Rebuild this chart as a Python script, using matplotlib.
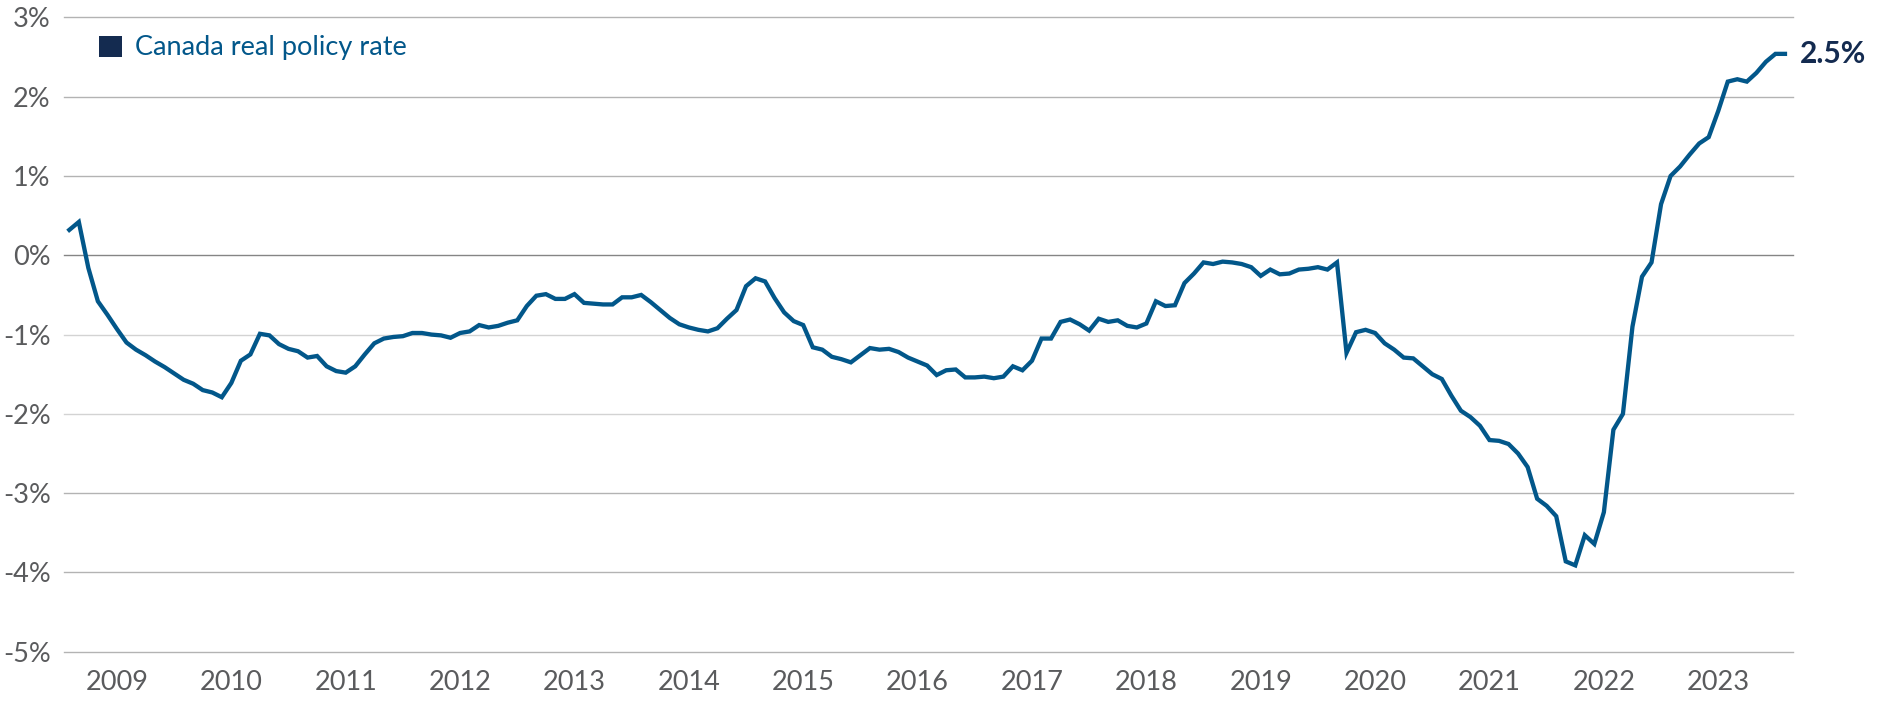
import numpy as np
import pandas as pd
import matplotlib
matplotlib.use("Agg")
import matplotlib.pyplot as plt
from matplotlib.patches import Patch

# Canada real policy rate, monthly (%), Aug 2008 - Aug 2023
rate_2008_2011 = [0.32, 0.42, -0.16, -0.58, -0.75, -0.93, -1.10, -1.19, -1.26, -1.34,
                  -1.41, -1.49, -1.57, -1.62, -1.70, -1.73, -1.79, -1.61, -1.33, -1.25,
                  -0.99, -1.01, -1.12, -1.18, -1.21, -1.29, -1.27, -1.40, -1.46, -1.48,
                  -1.40, -1.25, -1.11, -1.05, -1.03, -1.02, -0.98, -0.98, -1.00, -1.01,
                  -1.04]
rate_2012_2015 = [-0.98, -0.96, -0.88, -0.91, -0.89, -0.85, -0.82, -0.64, -0.51, -0.49,
                  -0.55, -0.55, -0.49, -0.60, -0.61, -0.62, -0.62, -0.53, -0.53, -0.50,
                  -0.59, -0.69, -0.79, -0.87, -0.91, -0.94, -0.96, -0.92, -0.80, -0.69,
                  -0.39, -0.29, -0.33, -0.54, -0.72, -0.83, -0.88, -1.16, -1.19, -1.28,
                  -1.31, -1.35, -1.26, -1.17, -1.19, -1.18, -1.22, -1.29]
rate_2016_2019 = [-1.34, -1.39, -1.51, -1.45, -1.44, -1.54, -1.54, -1.53, -1.55, -1.53,
                  -1.40, -1.45, -1.33, -1.05, -1.05, -0.84, -0.81, -0.87, -0.95, -0.80,
                  -0.84, -0.82, -0.89, -0.91, -0.86, -0.58, -0.64, -0.63, -0.35, -0.23,
                  -0.09, -0.11, -0.08, -0.09, -0.11, -0.15, -0.26, -0.18, -0.24, -0.23,
                  -0.18, -0.17, -0.15, -0.18, -0.09, -1.23, -0.97, -0.94]
rate_2020_2023 = [-0.98, -1.11, -1.19, -1.29, -1.30, -1.40, -1.50, -1.56, -1.77, -1.96,
                  -2.04, -2.15, -2.33, -2.34, -2.38, -2.50, -2.67, -3.07, -3.16, -3.29,
                  -3.86, -3.91, -3.53, -3.64, -3.24, -2.20, -2.00, -0.90, -0.27, -0.09,
                  0.645, 1.00, 1.12, 1.27, 1.41, 1.49, 1.82, 2.19, 2.22, 2.19,
                  2.30, 2.44, 2.54, 2.54]

y_ticks = [3, 2, 1, 0, -1, -2, -3, -4, -5]
series_label = "Canada real policy rate"
end_label = "2.5%"

rate = rate_2008_2011 + rate_2012_2015 + rate_2016_2019 + rate_2020_2023
dates = pd.date_range("2008-08-01", periods=len(rate), freq="MS")
x = np.arange(len(rate))

# colores
line_col = "#02578a"
navy = "#142b50"
tick_col = "#5a5b5d"

plt.rcParams["font.family"] = ["Lato", "DejaVu Sans"]

fig = plt.figure(figsize=(18.81, 7.01), dpi=100)
ax = fig.add_axes([0.0340, 0.0702, 0.9192, 0.9050])

# gridlines drawn by hand so each one can have its own shade
for t in y_ticks:
    if t == 0:
        c = "#858585"
    elif t in (-1, -2):
        c = "#d3d3d3"
    else:
        c = "#b3b3b3"
    ax.axhline(t, color=c, lw=1.0, zorder=1, clip_on=False)

ax.plot(x, rate, color=line_col, lw=3.1, zorder=3, solid_joinstyle="miter")

ax.set_ylim(-5, 3)
ax.set_xlim(-0.56, len(rate) - 1 + 0.84)

ax.set_yticks(y_ticks)
ax.set_yticklabels([f"{t}%" for t in y_ticks])

jan = [i for i, d in enumerate(dates) if d.month == 1]
ax.set_xticks(jan)
ax.set_xticklabels([str(dates[i].year) for i in jan])

ax.tick_params(axis="both", length=0, labelsize=19.5, labelcolor=tick_col)
ax.tick_params(axis="y", pad=9.5)
ax.tick_params(axis="x", pad=13)
for s in ax.spines.values():
    s.set_visible(False)

# etiqueta final
ax.annotate(end_label, xy=(x[-1], rate[-1]), xytext=(11, 0),
            textcoords="offset points", ha="left", va="center",
            fontsize=21.5, fontweight="bold", color=navy, annotation_clip=False)

handle = Patch(facecolor=navy, edgecolor="none", label=series_label)
leg = fig.legend(handles=[handle], loc="center left",
                 bbox_to_anchor=(98.7 / 1881, 1 - 48 / 701),
                 frameon=False, fontsize=19.5, labelcolor=line_col,
                 handlelength=0.86, handleheight=0.81, handletextpad=0.48,
                 borderpad=0, borderaxespad=0)

fig.savefig("out.png", dpi=100)
